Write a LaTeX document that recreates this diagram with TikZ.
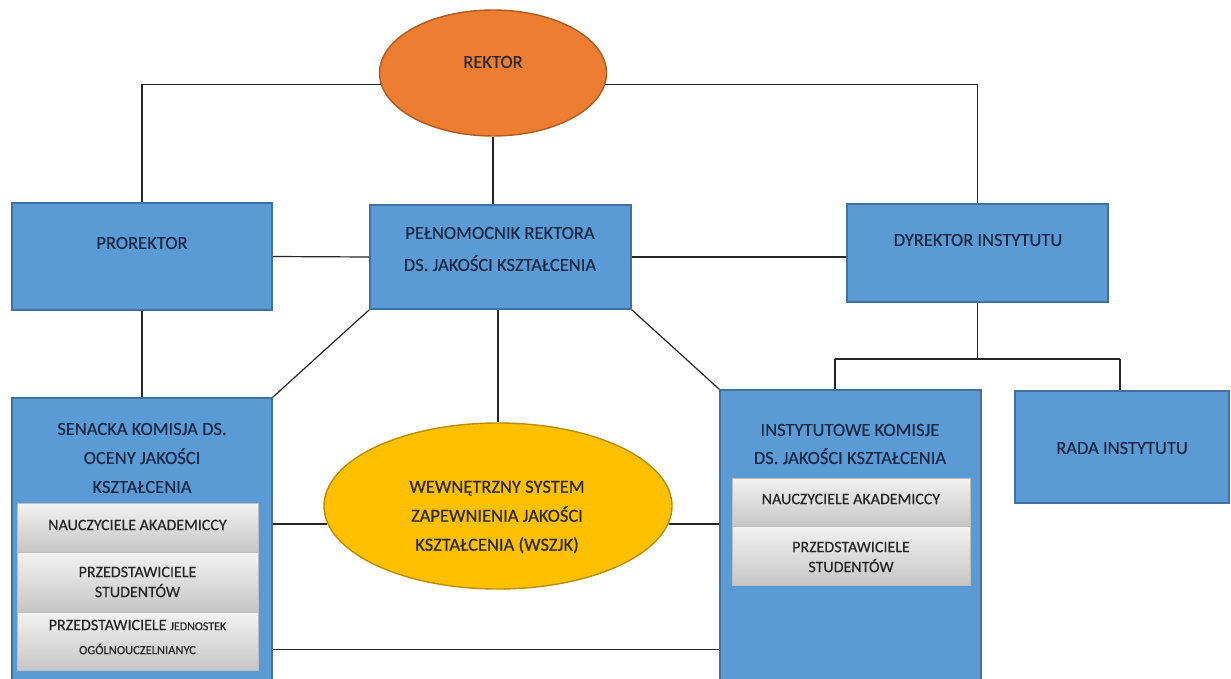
\documentclass[tikz,border=0pt]{standalone}
\usepackage{fontspec}
\setmainfont{Carlito}
\newfontfamily\lblfont{Carlito}[FakeBold=0.5]
\newfontfamily\glblfont{Carlito}[FakeBold=0.25]
\usetikzlibrary{shapes.geometric,calc}
\definecolor{bluefill}{HTML}{5B9BD5}
\definecolor{blueline}{HTML}{41719C}
\definecolor{orfill}{HTML}{ED7D31}
\definecolor{orline}{HTML}{AE5A21}
\definecolor{yefill}{HTML}{FFC000}
\definecolor{yeline}{HTML}{BC8C00}
\definecolor{navytext}{HTML}{1B2A44}
\definecolor{darktext}{HTML}{2B2A33}
\definecolor{connc}{HTML}{262626}
\definecolor{grayline}{HTML}{BDBDBD}
\definecolor{graytop}{HTML}{F2F2F2}
\definecolor{graybot}{HTML}{C6C6C6}
\begin{document}
\begin{tikzpicture}[x=1pt,y=-1pt,
  bluebox/.style={rectangle, draw=blueline, line width=1.6pt, fill=bluefill, inner sep=0pt},
  ovalbox/.style={ellipse, line width=1.4pt, inner sep=0pt},
  graybox/.style={rectangle, draw=grayline, line width=0.6pt, top color=graytop, bottom color=graybot, inner sep=0pt},
  lbl/.style={font=\lblfont\fontsize{18.5}{29}\selectfont, text=navytext, align=center, inner sep=0pt},
  glbl/.style={font=\glblfont\fontsize{16}{20}\selectfont, text=black!85, align=center, inner sep=0pt},
  connector/.style={draw=connc, line width=1.2pt}]
\useasboundingbox (0,0) rectangle (1231,679);
\fill[white] (0,0) rectangle (1231,679);
\clip (0,0) rectangle (1231,679);

% shapes
\node[ovalbox, draw=orline, fill=orfill, minimum width=227pt, minimum height=126pt] (rek) at (493,73) {};
\node[bluebox, minimum width=260pt, minimum height=107pt] (pro) at (142,256.5) {};
\node[bluebox, minimum width=261pt, minimum height=104pt] (pel) at (500.5,257) {};
\node[bluebox, minimum width=261pt, minimum height=98pt] (dyr) at (977.5,253) {};
\node[bluebox, minimum width=260pt, minimum height=312pt] (sen) at (142,554) {};
\node[bluebox, minimum width=261pt, minimum height=320pt] (ins) at (850.5,550) {};
\node[bluebox, minimum width=214pt, minimum height=112pt] (rada) at (1122,447) {};
\node[ovalbox, draw=yeline, fill=yefill, minimum width=348pt, minimum height=166pt] (wsz) at (498,506) {};

\node[graybox, minimum width=241pt, minimum height=49pt] (sg1) at (137.5,527.5) {};
\node[graybox, minimum width=241pt, minimum height=60pt] (sg2) at (137.5,582) {};
\node[graybox, minimum width=241pt, minimum height=58pt] (sg3) at (137.5,641) {};
\node[graybox, minimum width=238pt, minimum height=48pt] (ig1) at (851,502) {};
\node[graybox, minimum width=238pt, minimum height=59pt] (ig2) at (851,555.5) {};

% texts
\node[lbl, text=darktext] (rek-t) at (493,62) {REKTOR};
\node[lbl] (pro-t) at (142,243) {PROREKTOR};
\node[lbl, font=\lblfont\fontsize{18.5}{32}\selectfont] (pel-t) at (500,249) {PEŁNOMOCNIK REKTORA\\DS. JAKOŚCI KSZTAŁCENIA};
\node[lbl] (dyr-t) at (978,240) {DYREKTOR INSTYTUTU};
\node[lbl] (sen-t) at (142,458) {SENACKA KOMISJA DS.\\OCENY JAKOŚCI\\KSZTAŁCENIA};
\node[lbl, font=\lblfont\fontsize{18.5}{28}\selectfont] (ins-t) at (850,444) {INSTYTUTOWE KOMISJE\\DS. JAKOŚCI KSZTAŁCENIA};
\node[lbl] (rada-t) at (1122,448) {RADA INSTYTUTU};
\node[lbl, text=darktext] (wsz-t) at (497,517) {WEWNĘTRZNY SYSTEM\\ZAPEWNIENIA JAKOŚCI\\KSZTAŁCENIA (WSZJK)};

\node[glbl] (sg1-t) at (137.5,525) {NAUCZYCIELE AKADEMICCY};
\node[glbl] (sg2-t) at (137.5,582) {PRZEDSTAWICIELE\\STUDENTÓW};
\node[glbl] (sg3-t) at (137.5,637) {PRZEDSTAWICIELE {\fontsize{12}{14}\selectfont JEDNOSTEK}\\[4pt]{\fontsize{12.5}{14}\selectfont OGÓLNOUCZELNIANYC}};
\node[glbl] (ig1-t) at (851,499) {NAUCZYCIELE AKADEMICCY};
\node[glbl] (ig2-t) at (851,557) {PRZEDSTAWICIELE\\STUDENTÓW};

% connectors
\coordinate (jl) at (835,359);
\coordinate (jr) at (1120,359);
\draw[connector] (rek.186) -| (pro.north);
\draw[connector] (rek.354) -| (dyr.north);
\draw[connector] (rek.south) -- (rek.south |- pel.north);
\draw[connector] (pro.east) -- (pel.west);
\draw[connector] (pel.east) -- (pel.east -| dyr.west);
\draw[connector] (pro.south) -- (sen.north);
\draw[connector] (pel.south west) -- (sen.north east);
\draw[connector] (pel.south east) -- (ins.north west);
\draw[connector] (pel.south -| wsz.north) -- (wsz.north);
\draw[connector] (dyr.south) -- (dyr.south |- jl);
\draw[connector] (jl) -- (jr);
\draw[connector] (jl) -- (jl |- ins.north);
\draw[connector] (jr) -- (jr |- rada.north);
\draw[connector] (sen.east |- wsz.186) -- (wsz.186);
\draw[connector] (wsz.354) -- (wsz.354 -| ins.west);
\draw[connector] ($(sen.north east)+(0,252)$) -- ($(ins.north west)+(0,260)$);
\end{tikzpicture}
\end{document}
